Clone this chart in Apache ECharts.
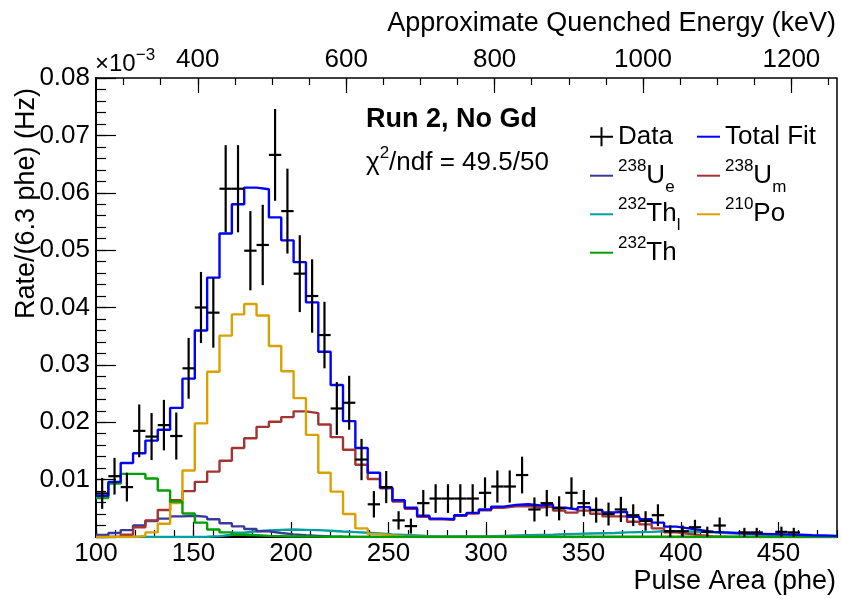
<!DOCTYPE html>
<html><head><meta charset="utf-8">
<script src="https://cdn.jsdelivr.net/npm/echarts@6/dist/echarts.min.js"></script>
<style>html,body{margin:0;padding:0;background:#fff}#c{width:842px;height:599px}</style>
</head><body><div id="c"></div>
<script>
// ---- binning (pulse area, phe) ----
const binLow = 100, binHigh = 480, nBins = 60;
// ---- values in units of the y tick labels x 1e-3 ----
const dataVal = [7.6,10.6,8.7,18.5,17.5,19.5,17.6,29.4,40.0,39.1,60.7,60.7,49.9,50.9,66.6,56.8,45.9,42.0,35.2,22.4,23.4,13.5,5.7,8.7,2.9,1.9,5.9,6.7,6.7,6.7,6.7,7.7,8.8,8.8,10.8,4.8,5.9,5.0,7.7,5.9,4.7,4.0,4.8,3.8,2.8,3.8,1.0,1.0,1.7,0.9,2.0,null,0.8,0.8,null,0.9,0.8,null,null,null];
const dataErr = [2.7,3.2,2.5,4.6,4.1,4.4,4.1,5.3,6.2,6.1,7.6,7.6,6.9,7.0,8.0,7.4,6.7,6.4,5.8,4.6,4.7,3.6,2.3,2.8,1.6,1.3,2.3,2.5,2.5,2.5,2.5,2.7,2.8,2.8,3.2,2.1,2.3,2.1,2.7,2.3,2.2,2.0,2.2,1.9,1.7,1.9,1.0,1.0,1.3,0.9,1.4,null,0.8,0.8,null,0.9,0.8,null,null,null];
const totalFit = [7.2,9.6,12.9,14.6,16.8,18.7,22.5,27.6,36.0,45.2,52.9,58.0,60.9,60.6,55.7,51.7,47.9,40.9,32.3,26.5,20.2,15.5,11.2,8.6,6.4,5.1,3.7,3.2,3.1,3.8,4.2,4.8,5.3,5.6,5.7,5.5,5.7,5.1,4.8,5.2,4.7,4.3,4.4,3.5,3.1,2.5,1.8,1.5,1.2,0.9,0.8,0.7,0.6,0.55,0.5,0.45,0.4,0.3,0.25,0.2];
const u238e = [0.35,0.7,1.2,2.0,2.8,3.2,3.6,3.7,3.5,3.1,2.4,1.85,1.4,1.0,0.7,0.45,0.3,0.2,0.1,0.05,0.02,0,0,0,0,0,0,0,0,0,0,0,0,0,0,0,0,0,0,0,0,0,0,0,0,0,0,0,0,0,0,0,0,0,0,0,0,0,0,0];
const u238m = [0,0.05,0.4,1.7,2.9,4.7,6.4,8.0,9.6,11.4,13.3,15.5,17.2,19.2,20.1,20.9,21.9,21.6,19.6,17.4,15.2,12.6,10.1,8.5,6.2,4.9,3.5,3.1,3.0,3.7,4.1,4.65,5.1,5.35,5.4,5.15,5.3,4.6,4.25,4.6,4.05,3.6,3.6,2.65,2.2,1.5,0.8,0.55,0.3,0.1,0.05,0.03,0.02,0.01,0,0,0,0,0,0];
const th232l = [0,0,0,0,0,0,0,0.02,0.05,0.15,0.4,0.75,1.0,1.15,1.25,1.3,1.25,1.2,1.1,0.95,0.85,0.75,0.6,0.45,0.35,0.25,0.15,0.1,0.1,0.1,0.1,0.15,0.2,0.25,0.3,0.35,0.4,0.5,0.55,0.6,0.65,0.7,0.8,0.85,0.9,1.0,1.0,0.95,0.9,0.8,0.7,0.6,0.5,0.4,0.35,0.3,0.25,0.2,0.15,0.1];
const po210 = [0,0,0,0.2,0.8,2.3,5.9,11.6,19.8,28.8,35.1,38.8,40.6,38.6,33.3,28.9,24.2,17.8,11.2,7.9,4.0,1.5,0.5,0.25,0.1,0.05,0,0,0,0,0,0,0,0,0,0,0,0,0,0,0,0,0,0,0,0,0,0,0,0,0,0,0,0,0,0,0,0,0,0];
const th232 = [6.8,9.3,11.0,11.0,10.2,8.1,6.2,4.1,2.5,1.3,0.8,0.4,0.3,0.2,0.15,0.1,0.08,0.06,0.05,0.04,0.03,0.02,0.02,0.02,0.02,0.02,0.02,0.02,0.02,0.02,0.02,0.02,0.02,0.02,0.02,0.02,0.02,0.02,0.02,0.02,0.02,0.02,0.02,0.02,0.02,0.02,0.02,0.02,0.02,0.02,0.02,0.02,0.02,0.02,0.02,0.02,0.02,0.02,0.02,0.02];
// ---- axis definitions ----
const yMax = 80, yStep = 10, yMinorStep = 2;
const xStep = 50, xMinorStep = 10;
const keVAt100 = 262.8, keVPerPhe = 2.628;   // approximate quenched-energy scale
const topMajor = [400, 1200, 200], topMinor = [300, 1250, 50];

const FONT = 'Liberation Sans';
const W = 842, H = 599;
const plotL = 96, plotR = 5, plotT = 78, plotB = 62;
const plotW = W - plotL - plotR;
const binWidth = (binHigh - binLow) / nBins;
const edges = Array.from({length: nBins + 1}, (_, i) => binLow + i * binWidth);
function histPoints(vals) {
  const pts = vals.map((v, i) => [edges[i], v]);
  pts.push([edges[nBins], vals[nBins - 1]]);
  return pts;
}
const pxOfPhe = p => plotL + (p - binLow) / (binHigh - binLow) * plotW;
const pheOfKeV = e => binLow + (e - keVAt100) / keVPerPhe;
function gridForKeV(a, b) {
  return {left: pxOfPhe(pheOfKeV(a)), right: W - pxOfPhe(pheOfKeV(b)), top: plotT, bottom: plotB};
}

const dataPoints = [];
dataVal.forEach((v, i) => { if (v != null) dataPoints.push([edges[i] + binWidth / 2, v, dataErr[i]]); });

const colors = {fit: '#0000ff', ue: '#3a3a9a', um: '#a23434', thl: '#00a0a0', po: '#d9a100', th: '#00a000'};
function histSeries(name, vals, color, z) {
  return {name, type: 'line', step: 'end', data: histPoints(vals), symbol: 'none', showSymbol: false,
    lineStyle: {color, width: 2.4}, itemStyle: {color}, z, xAxisIndex: 0, yAxisIndex: 0, animation: false, silent: true};
}

const rich = {
  sup: {fontSize: 17, lineHeight: 17, verticalAlign: 'top', padding: [4, 0, 0, 0], fontFamily: FONT, color: '#000'},
  sub: {fontSize: 17, lineHeight: 17, verticalAlign: 'top', padding: [25, 0, 0, 0], fontFamily: FONT, color: '#000'}
};
const legendLabels = {'Data': 'Data', 'Total Fit': 'Total Fit', '238Ue': '{sup|238}U{sub|e}', '238Um': '{sup|238}U{sub|m}',
  '232Thl': '{sup|232}Th{sub|l}', '210Po': '{sup|210}Po', '232Th': '{sup|232}Th'};
const rowC = [136.7, 175.7, 214.3, 252.7], colX = [590, 697];
const legendPlace = [['Data', 0, 0], ['Total Fit', 1, 0], ['238Ue', 0, 1], ['238Um', 1, 1], ['232Thl', 0, 2], ['210Po', 1, 2], ['232Th', 0, 3]];
const legends = legendPlace.map(([name, c, r]) => ({
  data: [name === 'Data' ? {name, icon: 'path://M0,8.5h23v2h-23z M10.5,0h2v19h-2z'} : {name, icon: 'rect'}],
  left: colX[c], top: rowC[r] - 22, padding: 0, itemWidth: 23, itemHeight: name === 'Data' ? 19 : 2,
  selectedMode: false, formatter: n => legendLabels[n],
  textStyle: {fontSize: 26, fontFamily: FONT, color: '#000', lineHeight: 44, rich}
}));

const tickStyle = {color: '#000', width: 1.2};
const option = {
  backgroundColor: '#fff',
  animation: false,
  grid: [
    {left: plotL, right: plotR, top: plotT, bottom: plotB, show: true, borderColor: '#000', borderWidth: 1.5, backgroundColor: 'transparent'},
    gridForKeV(topMinor[0], topMinor[1]),
    gridForKeV(topMajor[0], topMajor[1])
  ],
  xAxis: [
    {gridIndex: 0, type: 'value', min: binLow, max: binHigh, interval: xStep, position: 'bottom',
      axisLine: {show: true, onZero: false, lineStyle: {color: '#000', width: 2}},
      axisTick: {show: true, inside: true, length: 15, lineStyle: tickStyle},
      axisLabel: {fontSize: 26, fontFamily: FONT, color: '#000', margin: 4, showMaxLabel: false, formatter: v => String(v)},
      splitLine: {show: false}},
    {gridIndex: 0, type: 'value', min: binLow, max: binHigh, interval: xMinorStep, position: 'bottom',
      axisLine: {show: false, onZero: false}, axisTick: {show: true, inside: true, length: 7, lineStyle: tickStyle},
      axisLabel: {show: false}, splitLine: {show: false}},
    {gridIndex: 1, type: 'value', min: topMinor[0], max: topMinor[1], interval: topMinor[2], position: 'top',
      axisLine: {show: false, onZero: false}, axisTick: {show: true, inside: true, length: 7, lineStyle: tickStyle},
      axisLabel: {show: false}, splitLine: {show: false}},
    {gridIndex: 2, type: 'value', min: topMajor[0], max: topMajor[1], interval: topMajor[2], position: 'top',
      axisLine: {show: false, onZero: false}, axisTick: {show: true, inside: true, length: 15, lineStyle: tickStyle},
      axisLabel: {fontSize: 26, fontFamily: FONT, color: '#000', margin: 5, formatter: v => String(v)}, splitLine: {show: false}}
  ],
  yAxis: [
    {gridIndex: 0, type: 'value', min: 0, max: yMax, interval: yStep, position: 'left',
      axisLine: {show: true, onZero: false, lineStyle: {color: '#000', width: 2}},
      axisTick: {show: true, inside: true, length: 20, lineStyle: tickStyle},
      axisLabel: {fontSize: 26, fontFamily: FONT, color: '#000', margin: 6,
        formatter: v => v === 0 ? '' : (v / 1000).toFixed(2)},
      splitLine: {show: false}},
    {gridIndex: 0, type: 'value', min: 0, max: yMax, interval: yMinorStep, position: 'left',
      axisLine: {show: false, onZero: false}, axisTick: {show: true, inside: true, length: 10, lineStyle: tickStyle},
      axisLabel: {show: false}, splitLine: {show: false}},
    {gridIndex: 1, type: 'value', show: false, min: 0, max: 1},
    {gridIndex: 2, type: 'value', show: false, min: 0, max: 1}
  ],
  legend: legends,
  series: [
    histSeries('232Thl', th232l, colors.thl, 2),
    histSeries('238Ue', u238e, colors.ue, 3),
    histSeries('238Um', u238m, colors.um, 4),
    histSeries('210Po', po210, colors.po, 5),
    histSeries('232Th', th232, colors.th, 6),
    histSeries('Total Fit', totalFit, colors.fit, 7),
    {name: 'Data', type: 'custom', xAxisIndex: 0, yAxisIndex: 0, z: 10, itemStyle: {color: '#000'},
      data: dataPoints, encode: {x: 0, y: 1}, silent: true,
      renderItem: function (params, api) {
        const x = api.value(0), y = api.value(1), e = api.value(2);
        const hw = binWidth / 2;
        const pL = api.coord([x - hw, y]), pR = api.coord([x + hw, y]);
        const pT = api.coord([x, y + e]), pB = api.coord([x, Math.max(y - e, 0)]);
        return {type: 'group', children: [
          {type: 'line', shape: {x1: pL[0], y1: pL[1], x2: pR[0], y2: pR[1]}, style: {stroke: '#000', lineWidth: 2.2}},
          {type: 'line', shape: {x1: pT[0], y1: pT[1], x2: pB[0], y2: pB[1]}, style: {stroke: '#000', lineWidth: 2.2}}
        ]};
      }}
  ],
  graphic: [
    {type: 'text', x: 836, y: 24, style: {text: 'Approximate Quenched Energy (keV)', font: '27px ' + FONT, fill: '#000', align: 'right', verticalAlign: 'middle'}},
    {type: 'text', x: 836, y: 582, style: {text: 'Pulse Area (phe)', font: '27px ' + FONT, fill: '#000', align: 'right', verticalAlign: 'middle'}},
    {type: 'text', x: 27, y: 88, rotation: Math.PI / 2, style: {text: 'Rate/(6.3 phe) (Hz)', font: '27px ' + FONT, fill: '#000', align: 'right', verticalAlign: 'middle'}},
    {type: 'text', x: 95, y: 64, style: {text: '×10{sup|−3}', fontSize: 24, fontFamily: FONT, fill: '#000', lineHeight: 40, align: 'left', verticalAlign: 'middle',
      rich: {sup: {fontSize: 17, lineHeight: 17, verticalAlign: 'top', padding: [3, 0, 0, 0], fontFamily: FONT, color: '#000'}}}},
    {type: 'text', x: 366, y: 119.5, style: {text: 'Run 2, No Gd', font: 'bold 27px ' + FONT, fill: '#000', align: 'left', verticalAlign: 'middle'}},
    {type: 'text', x: 366, y: 163, style: {text: 'χ{sup|2}/ndf = 49.5/50', fontSize: 26, fontFamily: FONT, fill: '#000', lineHeight: 44, align: 'left', verticalAlign: 'middle',
      rich: {sup: {fontSize: 17, lineHeight: 17, verticalAlign: 'top', padding: [4, 0, 0, 0], fontFamily: FONT, color: '#000'}}}}
  ]
};
const chart = echarts.init(document.getElementById('c'), null, {renderer: 'canvas', width: W, height: H});
chart.setOption(option);
</script></body></html>
